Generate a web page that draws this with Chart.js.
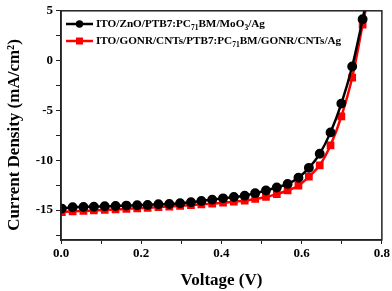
<!DOCTYPE html>
<html><head><meta charset="utf-8">
<script src="https://cdn.jsdelivr.net/npm/chart.js@4.4.0/dist/chart.umd.min.js"></script>
<style>html,body{margin:0;padding:0;background:#fff;}#wrap{width:392px;height:291px;}</style>
</head><body><div id="wrap"><canvas id="c" width="392" height="291"></canvas></div>
<script>
const voltage = [0.002,0.029,0.056,0.082,0.109,0.136,0.163,0.190,0.216,0.243,0.270,0.297,0.324,0.350,0.377,0.404,0.431,0.458,0.484,0.511,0.538,0.565,0.592,0.618,0.645,0.672,0.699,0.726,0.752,0.779];
const jRef = [-14.85,-14.72,-14.69,-14.66,-14.62,-14.59,-14.55,-14.51,-14.48,-14.42,-14.38,-14.31,-14.21,-14.08,-13.95,-13.82,-13.69,-13.55,-13.30,-13.03,-12.73,-12.37,-11.75,-10.76,-9.35,-7.20,-4.31,-0.59,4.15,9.5];
const jGonr = [-15.20,-15.12,-15.08,-15.03,-14.98,-14.93,-14.88,-14.82,-14.77,-14.70,-14.64,-14.57,-14.50,-14.42,-14.35,-14.25,-14.15,-14.05,-13.88,-13.68,-13.40,-13.03,-12.55,-11.65,-10.50,-8.50,-5.60,-1.70,3.60,9.0];
const seriesLabels = ["ITO/ZnO/PTB7:PC_{71}BM/MoO_{3}/Ag", "ITO/GONR/CNTs/PTB7:PC_{71}BM/GONR/CNTs/Ag"];
const xTitle = "Voltage (V)";
const yTitle = "Current Density (mA/cm²)";

const FONT = "'Liberation Serif', 'Times New Roman', serif";

const framePlugin = {
  id: 'frame',
  afterDraw(chart) {
    const {ctx, chartArea: a} = chart;
    ctx.save();
    ctx.strokeStyle = '#222';
    ctx.lineWidth = 1.5;
    ctx.strokeRect(a.left, a.top, a.right - a.left, a.bottom - a.top);
    // y axis title
    ctx.save();
    ctx.translate(15, 135);
    ctx.rotate(-Math.PI / 2);
    ctx.font = 'bold 17px ' + FONT;
    ctx.fillStyle = '#000';
    ctx.textAlign = 'center';
    ctx.textBaseline = 'middle';
    ctx.fillText(yTitle, 0, 0);
    ctx.restore();
    // legend
    const rows = [24, 41];
    chart.data.datasets.forEach((ds, i) => {
      const y = rows[i];
      ctx.strokeStyle = ds.borderColor;
      ctx.lineWidth = 2.5;
      ctx.beginPath(); ctx.moveTo(66, y); ctx.lineTo(93, y); ctx.stroke();
      ctx.fillStyle = ds.borderColor;
      if (ds.pointStyle === 'rect') { ctx.fillRect(79.5 - 3.5, y - 3.5, 7, 7); }
      else { ctx.beginPath(); ctx.arc(79.5, y, 3.7, 0, Math.PI * 2); ctx.fill(); }
      ctx.fillStyle = '#000';
      ctx.textBaseline = 'middle';
      ctx.textAlign = 'left';
      let x = 96;
      const parts = seriesLabels[i].split(/(_\{[^}]*\})/);
      parts.forEach(p => {
        if (!p) return;
        if (p.startsWith('_{')) {
          const t = p.slice(2, -1);
          ctx.font = 'bold 7.5px ' + FONT;
          ctx.fillText(t, x, y + 4);
          x += ctx.measureText(t).width;
        } else {
          ctx.font = 'bold 11.2px ' + FONT;
          ctx.fillText(p, x, y);
          x += ctx.measureText(p).width;
        }
      });
    });
    ctx.restore();
  }
};

new Chart(document.getElementById('c'), {
  type: 'line',
  data: {
    datasets: [
      { label: seriesLabels[0], data: voltage.map((v, i) => ({x: v, y: jRef[i]})),
        borderColor: '#000000', backgroundColor: '#000000', borderWidth: 2.5,
        pointStyle: 'circle', pointRadius: 3.7, pointHoverRadius: 3.7, tension: 0.3 },
      { label: seriesLabels[1], data: voltage.map((v, i) => ({x: v, y: jGonr[i]})),
        borderColor: '#ff0000', backgroundColor: '#ff0000', borderWidth: 2.5,
        pointStyle: 'rect', pointRadius: 3.7, pointHoverRadius: 3.7, tension: 0.3 }
    ]
  },
  options: {
    responsive: false,
    animation: false,
    devicePixelRatio: 1,
    layout: { padding: { top: 6, right: 10, left: 0, bottom: 0 } },
    plugins: { legend: { display: false }, tooltip: { enabled: false } },
    scales: {
      x: {
        type: 'linear', min: 0, max: 0.8,
        grid: { drawOnChartArea: false, drawTicks: true, tickLength: 4, color: '#222', tickWidth: 1 },
        border: { display: true, color: '#222', width: 1.5 },
        ticks: { stepSize: 0.1, color: '#000', padding: 2, maxRotation: 0,
          font: { family: FONT, size: 13, weight: 'bold' },
          callback: (v) => (Math.round(v * 10) % 2 === 0 ? v.toFixed(1) : '') },
        title: { display: true, text: xTitle, color: '#000', padding: { top: 4, bottom: 0 },
          font: { family: FONT, size: 17, weight: 'bold' } },
        afterFit: (s) => { s.height = 51; }
      },
      y: {
        min: -18, max: 5,
        grid: { drawOnChartArea: false, drawTicks: true, tickLength: 5, color: '#222', tickWidth: 1 },
        border: { display: true, color: '#222', width: 1.5 },
        ticks: { stepSize: 2.5, includeBounds: false, color: '#000', padding: 3,
          font: { family: FONT, size: 13, weight: 'bold' },
          callback: (v) => (Math.abs(v % 5) < 1e-9 ? String(v) : '') },
        title: { display: false },
        afterFit: (s) => { s.width = 61; }
      }
    }
  },
  plugins: [framePlugin]
});
</script></body></html>
